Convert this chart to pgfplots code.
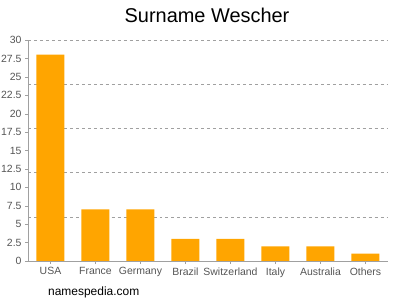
\documentclass[border=0pt]{standalone}
\usepackage{pgfplots}
\pgfplotsset{compat=1.18}
\usepackage{fontspec}
\setmainfont{Liberation Sans}
\definecolor{barorange}{HTML}{FFA500}
\definecolor{axgray}{HTML}{A0A0A0}
\definecolor{txtgray}{HTML}{555555}
\begin{document}
\begin{tikzpicture}[x=1bp,y=1bp]
\useasboundingbox (0,0) rectangle (400,300);
\begin{axis}[at={(28bp,39bp)}, anchor=south west, scale only axis,
  width=360bp, height=221bp,
  xmin=-0.5, xmax=7.5, ymin=0, ymax=30,
  axis x line*=bottom, axis y line*=left,
  axis line style={draw=axgray},
  ytick={0,2.5,...,30},
  xtick={0,...,7},
  xticklabels={USA,France,Germany,Brazil,Switzerland,Italy,Australia,Others},
  /pgf/number format/.cd, fixed, precision=1, assume math mode=true,
  /pgfplots/.cd,
  tick label style={font=\fontsize{10.5}{12}\selectfont, text=txtgray},
  tick style={draw=axgray},
  major tick length=3bp, tick align=outside,
  extra y ticks={6,12,18,24,30},
  extra y tick labels={},
  extra y tick style={grid=major, major grid style={dashed, draw=axgray}, major tick length=0pt},
  ybar, bar width=28bp,
]
\addplot[fill=barorange, draw=none] coordinates {(0,28) (1,7) (2,7) (3,3) (4,3) (5,2) (6,2) (7,1)};
\end{axis}
\node at (207,285) {\fontsize{20}{24}\selectfont Surname Wescher};
\node[anchor=west, inner sep=0pt] at (48,8) {\fontsize{12}{14}\selectfont namespedia.com};
\end{tikzpicture}
\end{document}
